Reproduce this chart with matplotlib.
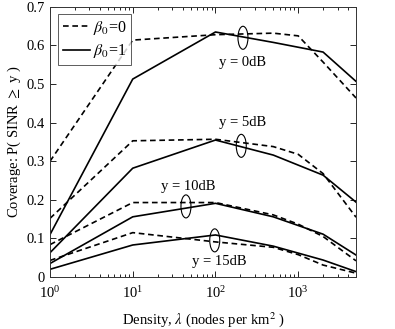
import matplotlib
matplotlib.use("Agg")
import matplotlib.pyplot as plt
from matplotlib.patches import Ellipse
from matplotlib.lines import Line2D

plt.rcParams['font.family'] = ['Liberation Serif', 'DejaVu Serif']
plt.rcParams['mathtext.fontset'] = 'stix'

# Density values
x_solid = [1, 10, 100, 500, 2000, 5000]
x_dashed = [1, 10, 100, 500, 1000, 2000, 5000]

# beta0 = 1 (solid)
solid_0dB = [0.110, 0.513, 0.635, 0.608, 0.583, 0.507]
solid_5dB = [0.063, 0.282, 0.355, 0.316, 0.264, 0.194]
solid_10dB = [0.035, 0.156, 0.191, 0.156, 0.111, 0.057]
solid_15dB = [0.020, 0.083, 0.109, 0.080, 0.044, 0.014]

# beta0 = 0 (dashed)
dashed_0dB = [0.300, 0.614, 0.628, 0.632, 0.625, 0.557, 0.464]
dashed_5dB = [0.152, 0.353, 0.357, 0.338, 0.318, 0.268, 0.155]
dashed_10dB = [0.084, 0.193, 0.193, 0.161, 0.137, 0.105, 0.042]
dashed_15dB = [0.043, 0.115, 0.091, 0.077, 0.058, 0.031, 0.010]

labels = ['y = 0dB', 'y = 5dB', 'y = 10dB', 'y = 15dB']
label_pos = [(215, 0.555), (215, 0.40), (47, 0.235), (110, 0.040)]
ellipse_pos = [(215, 0.620), (205, 0.340), (44, 0.183), (98, 0.095)]

fig = plt.figure(figsize=(3.95, 3.29), dpi=100)
ax = fig.add_axes([0.1266, 0.158, 0.7747, 0.821])

dash = (0, (3.4, 2.2))
lw = 1.2
for ys in [dashed_0dB, dashed_5dB, dashed_10dB, dashed_15dB]:
    ax.plot(x_dashed, ys, color='black', linestyle=dash, linewidth=lw)
for ys in [solid_0dB, solid_5dB, solid_10dB, solid_15dB]:
    ax.plot(x_solid, ys, color='black', linestyle='-', linewidth=lw)

ax.set_xscale('log')
ax.set_xlim(1, 5000)
ax.set_ylim(0, 0.7)
ax.set_yticks([0, 0.1, 0.2, 0.3, 0.4, 0.5, 0.6, 0.7])
ax.set_yticklabels(['0', '0.1', '0.2', '0.3', '0.4', '0.5', '0.6', '0.7'])
ax.tick_params(which='both', direction='in', top=True, right=True, labelsize=10.5)
ax.tick_params(axis='x', which='both', pad=6)
ax.tick_params(axis='y', which='both', pad=4)
ax.tick_params(which='major', length=4, width=0.6)
ax.tick_params(which='minor', length=2, width=0.6)
for s in ax.spines.values():
    s.set_linewidth(0.7)
    s.set_color('#333333')

ax.set_xlabel(r'Density, $\lambda$ (nodes per km$^2$ )', fontsize=10.5, labelpad=6)
ax.set_ylabel(r'Coverage: P( SINR $\geq$ y )', fontsize=10.5, labelpad=2)

for (tx, ty), t in zip(label_pos, labels):
    ax.text(tx, ty, t, fontsize=10.5, ha='center', va='center')

fig.canvas.draw()
for (ex, ey) in ellipse_pos:
    cx, cy = ax.transAxes.inverted().transform(ax.transData.transform((ex, ey)))
    e = Ellipse((cx, cy), width=10 / 306, height=23 / 270, transform=ax.transAxes,
                fill=False, edgecolor='black', linewidth=0.8)
    ax.add_patch(e)

handles = [Line2D([0], [0], color='black', linestyle=dash, linewidth=lw),
           Line2D([0], [0], color='black', linestyle='-', linewidth=lw)]
leg = ax.legend(handles, [r'$\beta_0$=0', r'$\beta_0$=1'], loc='upper left',
                bbox_to_anchor=(0.026, 0.974), fontsize=11.5, frameon=True,
                fancybox=False, edgecolor='#333333', handlelength=1.7,
                borderpad=0.3, labelspacing=0.35, handletextpad=0.2,
                borderaxespad=0)
leg.get_frame().set_linewidth(0.7)

fig.savefig('out.png', dpi=100)
